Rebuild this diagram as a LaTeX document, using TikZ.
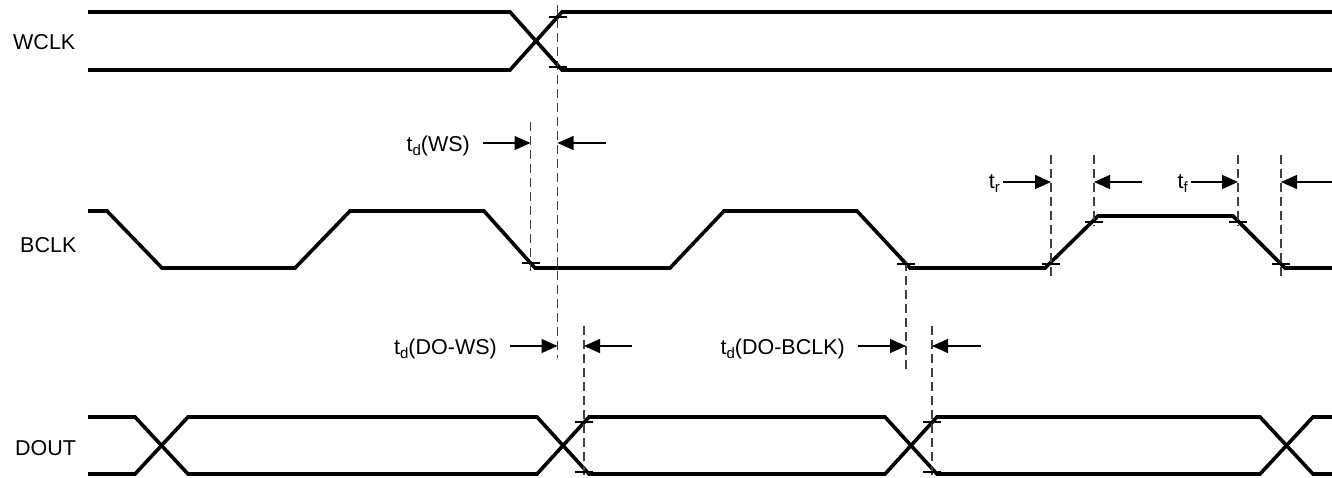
\documentclass[tikz,border=0pt]{standalone}
\usepackage{fontspec}
\setmainfont{Liberation Sans}
\usetikzlibrary{arrows.meta}
\newcommand{\mysub}[1]{\raisebox{-4.5pt}{\fontsize{15}{15}\selectfont #1}}
\tikzset{
  sig/.style={line width=3.6pt, line join=miter},
  guide/.style={line width=1.4pt, dash pattern=on 9pt off 5pt, black!75},
  tick/.style={line width=1.1pt},
  dim/.style={line width=1.3pt, -{Triangle[length=16pt,width=14pt]}},
  lbl/.style={font=\fontsize{21.5}{24}\selectfont, inner sep=0pt, anchor=base east},
  siglbl/.style={font=\fontsize{21.5}{24}\selectfont, inner sep=0pt, anchor=base west}
}
\begin{document}
\begin{tikzpicture}[x=1pt,y=-1pt]
\useasboundingbox (0,0) rectangle (1332,477);
% signal names
\node[siglbl] (wclk) at (13,49) {WCLK};
\node[siglbl] (bclk) at (20,252) {BCLK};
\node[siglbl] (dout) at (15,455) {DOUT};
% WCLK
\draw[sig] (88,12) -- (510,12) -- (562,70) -- (1332,70);
\draw[sig] (88,70) -- (510,70) -- (562,12) -- (1332,12);
% BCLK
\draw[sig] (88,211) -- (107,211) -- (162,268) -- (295,268) -- (350,211) -- (484,211)
  -- (535,268) -- (670,268) -- (724,211) -- (857,211) -- (910,268) -- (1045,268)
  -- (1098,216) -- (1233,216) -- (1285,268) -- (1332,268);
% DOUT
\draw[sig] (88,417) -- (135,417) -- (188,474) -- (537,474) -- (589,417) -- (885,417)
  -- (937,474) -- (1260,474) -- (1313,417) -- (1332,417);
\draw[sig] (88,474) -- (135,474) -- (188,417) -- (537,417) -- (589,474) -- (885,474)
  -- (937,417) -- (1260,417) -- (1313,474) -- (1332,474);
% guide lines
\coordinate (g1t) at (530.5,122); \coordinate (g1b) at (530.5,274);
\coordinate (g2t) at (557.5,5);   \coordinate (g2b) at (557.5,358);
\coordinate (g3t) at (584,326);   \coordinate (g3b) at (584,476);
\coordinate (g4t) at (906,262);   \coordinate (g4b) at (906,370);
\coordinate (g5t) at (932,326);   \coordinate (g5b) at (932,476);
\coordinate (g6t) at (1051,155);  \coordinate (g6b) at (1051,278);
\coordinate (g7t) at (1094,155);  \coordinate (g7b) at (1094,226);
\coordinate (g8t) at (1238,155);  \coordinate (g8b) at (1238,226);
\coordinate (g9t) at (1281,155);  \coordinate (g9b) at (1281,278);
\foreach \g in {1,...,9} \draw[guide] (g\g t) -- (g\g b);
% ticks
\foreach \x/\y in {557.5/17, 557.5/67, 530.5/263, 906/264, 1051/264, 1094/222, 1238/222, 1281/264, 584/422, 584/472, 932/422, 932/472}
  \draw[tick] (\x-9,\y) -- (\x+9,\y);
% td(WS)
\coordinate (a1s) at (483,143); \coordinate (a1e) at (530.5,143);
\coordinate (a2s) at (606,143); \coordinate (a2e) at (557.5,143);
\draw[dim] (a1s) -- (a1e);
\draw[dim] (a2s) -- (a2e);
\node[lbl] (tws) at (470,151) {t\mysub{d}(WS)};
% td(DO-WS)
\coordinate (b1s) at (510,346); \coordinate (b1e) at (557.5,346);
\coordinate (b2s) at (632,346); \coordinate (b2e) at (584,346);
\draw[dim] (b1s) -- (b1e);
\draw[dim] (b2s) -- (b2e);
\node[lbl] (tdows) at (497,354) {t\mysub{d}(DO-WS)};
% td(DO-BCLK)
\coordinate (c1s) at (858,346); \coordinate (c1e) at (906,346);
\coordinate (c2s) at (981,346); \coordinate (c2e) at (932,346);
\draw[dim] (c1s) -- (c1e);
\draw[dim] (c2s) -- (c2e);
\node[lbl] (tdob) at (845,354) {t\mysub{d}(DO-BCLK)};
% tr
\coordinate (r1s) at (1003,182); \coordinate (r1e) at (1051,182);
\coordinate (r2s) at (1142,182); \coordinate (r2e) at (1094,182);
\draw[dim] (r1s) -- (r1e);
\draw[dim] (r2s) -- (r2e);
\node[lbl] (tr) at (1000,188) {t\mysub{r}};
% tf
\coordinate (f1s) at (1191,182); \coordinate (f1e) at (1238,182);
\coordinate (f2s) at (1332,182); \coordinate (f2e) at (1281,182);
\draw[dim] (f1s) -- (f1e);
\draw[dim] (f2s) -- (f2e);
\node[lbl] (tf) at (1188,188) {t\mysub{f}};
\end{tikzpicture}
\end{document}
